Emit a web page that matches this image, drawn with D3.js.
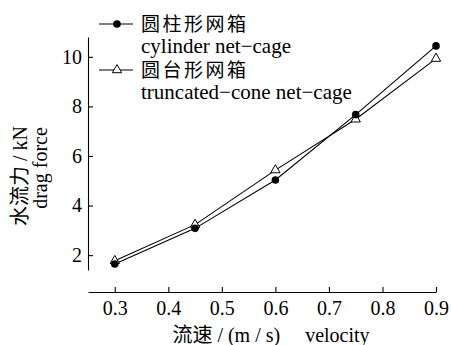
<!DOCTYPE html>
<html><head><meta charset="utf-8">
<script src="https://cdn.jsdelivr.net/npm/d3@7"></script>
<style>
body{margin:0;background:#fff;}
</style></head>
<body><svg id="c" width="451" height="345"></svg>
<script>
const velocity = [0.3, 0.45, 0.6, 0.75, 0.9];
const cylinder = [1.64, 3.08, 5.03, 7.67, 10.44];
const truncated = [1.77, 3.23, 5.43, 7.48, 9.93];
const xTicks = [0.3, 0.4, 0.5, 0.6, 0.7, 0.8, 0.9];
const yTicks = [2, 4, 6, 8, 10];
const seriesNames = [["圆柱形网箱","cylinder net\u2212cage"],["圆台形网箱","truncated\u2212cone net\u2212cage"]];
const FONT = 'Liberation Serif, Noto Sans CJK SC';

const svg = d3.select("#c");
const x = d3.scaleLinear().domain([0.25, 0.9]).range([88, 436]);
const y = d3.scaleLinear().domain([1.4, 10.8]).range([270, 37]);

const gx = svg.append("g").attr("transform","translate(0,292)")
  .call(d3.axisBottom(x).tickValues(xTicks).tickFormat(d3.format(".1f")).tickSizeInner(-5).tickSizeOuter(0).tickPadding(9));
const gy = svg.append("g").attr("transform","translate(88,0)")
  .call(d3.axisLeft(y).tickValues(yTicks).tickFormat(d3.format("d")).tickSizeInner(-5).tickSizeOuter(0).tickPadding(6));
[gx, gy].forEach(g => {
  g.attr("font-family", null).attr("font-size", null);
  g.selectAll("text").style("font-family", FONT).style("font-size","20px");
  g.selectAll("path,line").attr("stroke","#000").attr("stroke-width",1.1);
});

function txt(sel, s, size) {
  return sel.append("text").style("font-family", FONT).style("font-size", size+"px").style("white-space","pre").attr("fill","#000").text(s);
}

// axis titles
txt(svg, "流速 / (m / s)     velocity", 20).attr("x",271).attr("y",342).attr("text-anchor","middle");
txt(svg.append("g").attr("transform","translate(27,176) rotate(-90)"), "水流力 / kN", 20).attr("text-anchor","middle");
txt(svg.append("g").attr("transform","translate(47,168) rotate(-90)"), "drag force", 20).attr("text-anchor","middle");

const line = d3.line().x((d,i)=>x(velocity[i])).y(d=>y(d));
svg.append("path").datum(cylinder).attr("d",line).attr("fill","none").attr("stroke","#000").attr("stroke-width",1.1);
svg.append("path").datum(truncated).attr("d",line).attr("fill","none").attr("stroke","#000").attr("stroke-width",1.1);

const tri = d3.symbol().type(d3.symbolTriangle).size(38);
svg.selectAll(".tri").data(truncated).enter().append("path")
  .attr("d",tri).attr("transform",(d,i)=>`translate(${x(velocity[i])},${y(d)})`)
  .attr("fill","#fff").attr("stroke","#000").attr("stroke-width",1);
svg.selectAll(".cir").data(cylinder).enter().append("circle")
  .attr("cx",(d,i)=>x(velocity[i])).attr("cy",d=>y(d)).attr("r",3.8).attr("fill","#000");

// legend
const leg = svg.append("g");
[24, 70].forEach((ly, k) => {
  leg.append("line").attr("x1",99).attr("x2",133).attr("y1",ly).attr("y2",ly).attr("stroke","#000").attr("stroke-width",1.1);
  if (k===0) leg.append("circle").attr("cx",117).attr("cy",ly).attr("r",3.8).attr("fill","#000");
  else leg.append("path").attr("d",tri).attr("transform",`translate(117,${ly})`).attr("fill","#fff").attr("stroke","#000");
  txt(leg, seriesNames[k][0], 19).attr("x",141).attr("y",ly+7).style("letter-spacing","2.5px");
  txt(leg, seriesNames[k][1], 21).attr("x",141).attr("y",ly+29);
});
</script></body></html>
